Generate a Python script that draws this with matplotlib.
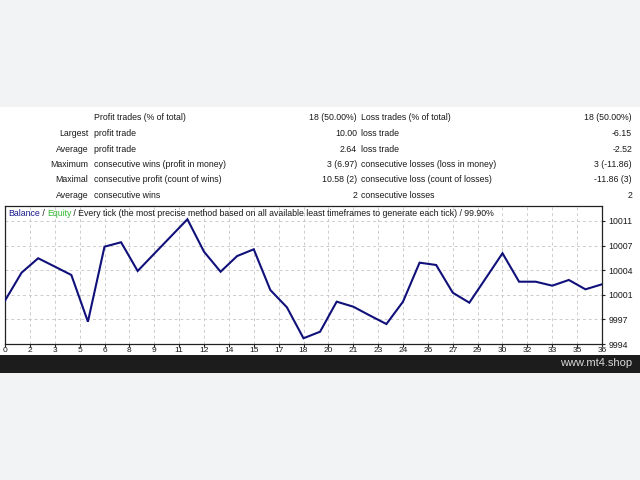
import matplotlib
matplotlib.use("Agg")
import matplotlib.pyplot as plt
from matplotlib.patches import Rectangle

# ---------------- data ----------------
balance = [10000.0, 10003.86, 10005.85, 10004.70, 10003.54, 9997.08, 10007.45, 10008.06,
           10004.09, 10006.48, 10008.86, 10011.24, 10006.76, 10003.99, 10006.16, 10007.09,
           10001.46, 9999.07, 9994.79, 9995.70, 9999.85, 9999.16, 9997.94, 9996.76,
           9999.85, 10005.24, 10004.92, 10001.09, 9999.71, 10003.12, 10006.54, 10002.61,
           10002.61, 10002.06, 10002.85, 10001.56, 10002.25]
trades = list(range(len(balance)))

x_tick_labels = ["0", "2", "3", "5", "6", "8", "9", "11", "12", "14", "15", "17", "18",
                 "20", "21", "23", "24", "26", "27", "29", "30", "32", "33", "35", "36"]
y_tick_labels = ["9994", "9997", "10001", "10004", "10007", "10011"]
y_tick_values = [9994.0, 9997.4, 10000.8, 10004.2, 10007.6, 10011.0]

row_left_labels = ["", "Largest", "Average", "Maximum", "Maximal", "Average"]
row_profit_names = ["Profit trades (% of total)", "profit trade", "profit trade",
                    "consecutive wins (profit in money)", "consecutive profit (count of wins)",
                    "consecutive wins"]
row_profit_values = ["18 (50.00%)", "10.00", "2.64", "3 (6.97)", "10.58 (2)", "2"]
row_loss_names = ["Loss trades (% of total)", "loss trade", "loss trade",
                  "consecutive losses (loss in money)", "consecutive loss (count of losses)",
                  "consecutive losses"]
row_loss_values = ["18 (50.00%)", "-6.15", "-2.52", "3 (-11.86)", "-11.86 (3)", "2"]

W, H = 640, 480
fig = plt.figure(figsize=(6.4, 4.8), dpi=100)
fig.patch.set_facecolor("#f2f3f5")
FONT = "Liberation Sans"

def fx(px):
    return px / W

def fy(py):
    return 1 - py / H

# backgrounds
fig.patches.append(Rectangle((0, fy(355)), 1, fy(107) - fy(355), transform=fig.transFigure,
                             facecolor="white", edgecolor="none", zorder=-10))
fig.patches.append(Rectangle((0, fy(373)), 1, fy(355) - fy(373), transform=fig.transFigure,
                             facecolor="#1c1c1c", edgecolor="none", zorder=-10))
fig.text(fx(632), fy(363.5), "www.mt4.shop", ha="right", va="center", color="#d8d8d8",
         fontsize=8, family=FONT)

# table
row_y = [118, 133.5, 149, 164.5, 180, 195.5]
fs = 6.3
tc = "#1a1a1a"
for i, y in enumerate(row_y):
    if row_left_labels[i]:
        fig.text(fx(88.5), fy(y), row_left_labels[i], ha="right", va="center", fontsize=fs,
                 color=tc, family=FONT)
    fig.text(fx(94), fy(y), row_profit_names[i], ha="left", va="center", fontsize=fs,
             color=tc, family=FONT)
    fig.text(fx(357), fy(y), row_profit_values[i], ha="right", va="center", fontsize=fs,
             color=tc, family=FONT)
    fig.text(fx(361), fy(y), row_loss_names[i], ha="left", va="center", fontsize=fs,
             color=tc, family=FONT)
    fig.text(fx(632), fy(y), row_loss_values[i], ha="right", va="center", fontsize=fs,
             color=tc, family=FONT)

# chart
ax = fig.add_axes([fx(5), fy(344), fx(602) - fx(5), fy(206) - fy(344)])
ax.set_zorder(1)
ax.set_facecolor("white")
ax.plot(trades, balance, color="#10107a", linewidth=1.5, solid_joinstyle="miter", zorder=3)
ax.set_xlim(0, 36)
ppu = 24.6 / 3.4
ax.set_ylim(9994.0, 9994.0 + 138 / ppu)

xt = [k * 1.5 for k in range(len(x_tick_labels))]
ax.set_xticks(xt)
ax.set_xticklabels(x_tick_labels, fontsize=6.0, family=FONT, color=tc)
ax.set_yticks(y_tick_values)
ax.set_yticklabels(y_tick_labels, fontsize=6.3, family=FONT, color=tc)
ax.yaxis.tick_right()
ax.tick_params(axis="x", direction="out", length=2.0, width=0.8, pad=0.2, color="#222222")
ax.tick_params(axis="y", direction="out", length=2.5, width=0.8, pad=2, color="#222222")
ax.grid(True, color="#cccccc", linestyle=(0, (3, 3)), linewidth=0.7)
for s in ax.spines.values():
    s.set_color("#222222")
    s.set_linewidth(0.9)

# title segments
tx = fx(8)
ty = fy(214)
parts = [("Balance", "#1a1a8c"), (" / ", tc), ("Equity", "#33b833"),
         (" / Every tick (the most precise method based on all available least timeframes to generate each tick) / 99.90%", tc)]
renderer = fig.canvas.get_renderer()
x_cur = tx
for txt, col in parts:
    t = fig.text(x_cur, ty, txt, ha="left", va="center", fontsize=fs, color=col, family=FONT,
                 zorder=5)
    bb = t.get_window_extent(renderer=renderer)
    x_cur += bb.width / (W)

fig.savefig("out.png", dpi=100, facecolor=fig.get_facecolor())
